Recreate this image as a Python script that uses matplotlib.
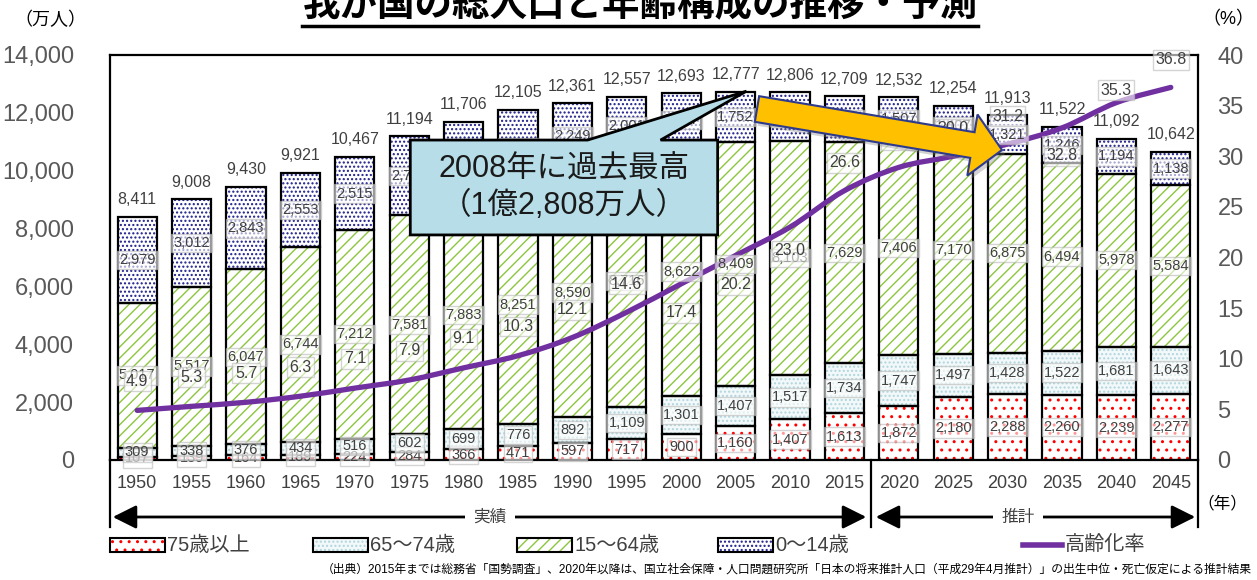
import matplotlib.pyplot as plt
import numpy as np
from matplotlib.patches import Rectangle, Polygon, PathPatch, FancyArrowPatch
from matplotlib.path import Path
from matplotlib.lines import Line2D
from matplotlib.ticker import FuncFormatter

plt.rcParams['font.family'] = ['Liberation Sans', 'Noto Sans CJK JP']
plt.rcParams['hatch.linewidth'] = 1.0

# population by age group (10k persons) and share aged 65+ (%)
years = ['1950', '1955', '1960', '1965', '1970', '1975', '1980', '1985', '1990', '1995',
         '2000', '2005', '2010', '2015', '2020', '2025', '2030', '2035', '2040', '2045']
pop_75over = [107, 139, 164, 189, 224, 284, 366, 471, 597, 717,
              900, 1160, 1407, 1613, 1872, 2180, 2288, 2260, 2239, 2277]
pop_65_74 = [309, 338, 376, 434, 516, 602, 699, 776, 892, 1109,
             1301, 1407, 1517, 1734, 1747, 1497, 1428, 1522, 1681, 1643]
pop_15_64 = [5017, 5517, 6047, 6744, 7212, 7581, 7883, 8251, 8590, 8716,
             8622, 8409, 8103, 7629, 7406, 7170, 6875, 6494, 5978, 5584]
pop_0_14 = [2979, 3012, 2843, 2553, 2515, 2722, 2751, 2603, 2249, 2001,
            1847, 1752, 1680, 1595, 1507, 1407, 1321, 1246, 1194, 1138]
pop_total = [8411, 9008, 9430, 9921, 10467, 11194, 11706, 12105, 12361, 12557,
             12693, 12777, 12806, 12709, 12532, 12254, 11913, 11522, 11092, 10642]
aging_rate = [4.9, 5.3, 5.7, 6.3, 7.1, 7.9, 9.1, 10.3, 12.1, 14.6,
              17.4, 20.2, 23.0, 26.6, 28.9, 30.0, 31.2, 32.8, 35.3, 36.8]
legend_names = ['75歳以上', '65〜74歳', '15〜64歳', '0〜14歳']

# label offset (points) of the rate values relative to the line
rate_offsets = [21, 21, 21, 21, 21, 21, 21, 21, 20, 20,
                -21, -21, -17, 20, 20, 20, 20, -20, 9, 20]

W, H = 1257, 580
TXT = '#404040'
fig = plt.figure(figsize=(W / 100, H / 100), dpi=100)
ax = fig.add_axes([110 / W, 1 - 460 / H, 1088 / W, 405 / H])
ax2 = ax.twinx()

def fx(px):
    return px / W

def fy(py):
    return 1 - py / H

x = np.arange(len(years))
seg_styles = [
    ('white', '#FF0000', '..'),
    ('#F3F9FA', '#B0D6DC', '....'),
    ('white', '#8CC63F', '///'),
    ('white', '#1C1C8C', '....'),
]
segments = [pop_75over, pop_65_74, pop_15_64, pop_0_14]

label_box = dict(boxstyle='square,pad=0.15', fc='white', ec='#B8B8B8', alpha=0.6, lw=1)

bottom = np.zeros(len(years))
for vals, (face, hcol, hatch) in zip(segments, seg_styles):
    vals = np.array(vals)
    ax.bar(x, vals, 0.72, bottom=bottom, color=face, edgecolor=hcol,
           hatch=hatch, linewidth=0, zorder=2)
    ax.bar(x, vals, 0.72, bottom=bottom, fill=False, edgecolor='black',
           linewidth=1.6, zorder=2.5)
    for i, v in enumerate(vals):
        ax2.text(i, bottom[i] + v / 2, f'{v:,}', transform=ax.transData,
                 ha='center', va='center', fontsize=10.5, color=TXT,
                 bbox=label_box, zorder=4)
    bottom += vals

for i, t in enumerate(pop_total):
    ax2.annotate(f'{t:,}', (i, bottom[i]), xycoords=ax.transData,
                 xytext=(0, 7), textcoords='offset points',
                 ha='center', va='bottom', fontsize=11.5, color=TXT, zorder=4)

# smoothed aging-rate curve (Catmull-Rom as cubic Bezier segments)
pts = np.column_stack([x, aging_rate]).astype(float)
verts = [pts[0]]
codes = [Path.MOVETO]
for i in range(len(pts) - 1):
    p0 = pts[max(i - 1, 0)]
    p1 = pts[i]
    p2 = pts[i + 1]
    p3 = pts[min(i + 2, len(pts) - 1)]
    verts += [p1 + (p2 - p0) / 6, p2 - (p3 - p1) / 6, p2]
    codes += [Path.CURVE4] * 3
ax2.add_patch(PathPatch(Path(verts, codes), fill=False, ec='#7030A0', lw=3.8,
                        capstyle='round', zorder=3))

for i, r in enumerate(aging_rate):
    ax2.annotate(f'{r:.1f}', (i, r), xytext=(0, rate_offsets[i]),
                 textcoords='offset points', ha='center', va='center',
                 fontsize=11.5, color=TXT, bbox=label_box, zorder=4)

# axes styling
ax.set_xlim(-0.5, len(years) - 0.5)
ax.set_ylim(0, 14000)
ax2.set_ylim(0, 40)
ax.set_yticks(range(0, 14001, 2000))
ax.yaxis.set_major_formatter(FuncFormatter(lambda v, p: f'{int(v):,}'))
ax2.set_yticks(range(0, 41, 5))
ax.set_xticks(x, years)
ax.tick_params(axis='y', length=0, labelsize=17, labelcolor='#595959', pad=26)
ax.tick_params(axis='x', length=0, labelsize=13, labelcolor=TXT, pad=11)
ax2.tick_params(axis='y', length=0, labelsize=17, labelcolor='#595959', pad=14)
for s in ['left', 'top', 'bottom']:
    ax.spines[s].set_linewidth(1.6)
ax.spines['right'].set_visible(False)
for s in ['left', 'top', 'bottom']:
    ax2.spines[s].set_visible(False)
ax2.spines['right'].set_linewidth(1.6)

# callout for the 2008 peak
call = Polygon([(5.02, 7780), (10.67, 7780), (10.67, 11060), (9.62, 11060),
                (11.2, 12750), (8.28, 11060), (5.02, 11060)], closed=True,
               fc='#B7DEE8', ec='black', lw=2, transform=ax.transData,
               zorder=6, clip_on=False)
ax2.add_patch(call)
ax2.text(7.84, 9420, '2008年に過去最高\n（1億2,808万人）', transform=ax.transData,
         ha='center', va='center', fontsize=22, linespacing=1.3,
         color='#1A1A1A', zorder=7)

# orange block arrow toward the projection period
tail = np.array([757.0, 109.0])
tip = np.array([1002.0, 150.0])
u = (tip - tail) / np.linalg.norm(tip - tail)
n = np.array([-u[1], u[0]])
head = tip - u * 30
arrow_px = [tail + n * 13, head + n * 13, head + n * 31, tip,
            head - n * 31, head - n * 13, tail - n * 13]
shadow = Polygon([(fx(p[0] + 3), fy(p[1] + 4)) for p in arrow_px], closed=True,
                 fc='#808080', ec='none', alpha=0.35, transform=fig.transFigure, zorder=8)
fig.add_artist(shadow)
fig.add_artist(Polygon([(fx(p[0]), fy(p[1])) for p in arrow_px], closed=True,
                       fc='#FFC000', ec='#2E3A8C', lw=1.5,
                       transform=fig.transFigure, zorder=9))

# period markers under the year axis
for px in [110, 871, 1198]:
    fig.add_artist(Line2D([fx(px), fx(px)], [fy(460), fy(527)], color='black', lw=1.6))
for x0, x1, name, xm in [(110, 869, '実績', 490), (873, 1198, '推計', 1018)]:
    fig.add_artist(FancyArrowPatch((fx(x0), fy(517)), (fx(x1), fy(517)),
                                   arrowstyle='<|-|>,head_length=0.9,head_width=0.45',
                                   mutation_scale=16, lw=2, color='black',
                                   transform=fig.transFigure))
    fig.text(fx(xm), fy(517), name, ha='center', va='center', fontsize=12, color=TXT,
             bbox=dict(boxstyle='square,pad=0.5', fc='white', ec='none'))
fig.text(fx(1222), fy(503), '（年）', ha='center', va='center', fontsize=12, color='black')

# legend row
leg_x = [110, 313, 517, 718]
for (face, hcol, hatch), name, lx in zip(seg_styles, legend_names, leg_x):
    fig.add_artist(Rectangle((fx(lx), fy(552)), 55 / W, 14 / H, fc=face, ec=hcol,
                             hatch=hatch, lw=0, transform=fig.transFigure))
    fig.add_artist(Rectangle((fx(lx), fy(552)), 55 / W, 14 / H, fill=False,
                             ec='black', lw=1.5, transform=fig.transFigure))
    fig.text(fx(lx + 57), fy(545), name, ha='left', va='center', fontsize=14.5, color=TXT)
fig.add_artist(Line2D([fx(1023), fx(1062)], [fy(545), fy(545)], color='#7030A0', lw=4))
fig.text(fx(1065), fy(545), '高齢化率', ha='left', va='center', fontsize=14.5, color=TXT)

# titles and units
fig.text(fx(640), fy(5), '我が国の総人口と年齢構成の推移・予測', ha='center', va='center',
         fontsize=27, fontweight='bold', family='Noto Sans CJK JP', color='black')
fig.add_artist(Line2D([fx(302), fx(978)], [fy(26), fy(26)], color='black', lw=2.5))
fig.text(fx(50), fy(20), '（万人）', ha='center', va='center', fontsize=13, color='black')
fig.text(fx(1228), fy(20), '（%）', ha='center', va='center', fontsize=13, color='black')
fig.text(fx(1252), fy(570),
         '（出典）2015年までは総務省「国勢調査」、2020年以降は、国立社会保障・人口問題研究所'
         '「日本の将来推計人口（平成29年4月推計）」の出生中位・死亡仮定による推計結果',
         ha='right', va='center', fontsize=8.5, color='black')

fig.savefig('out.png', dpi=100)
